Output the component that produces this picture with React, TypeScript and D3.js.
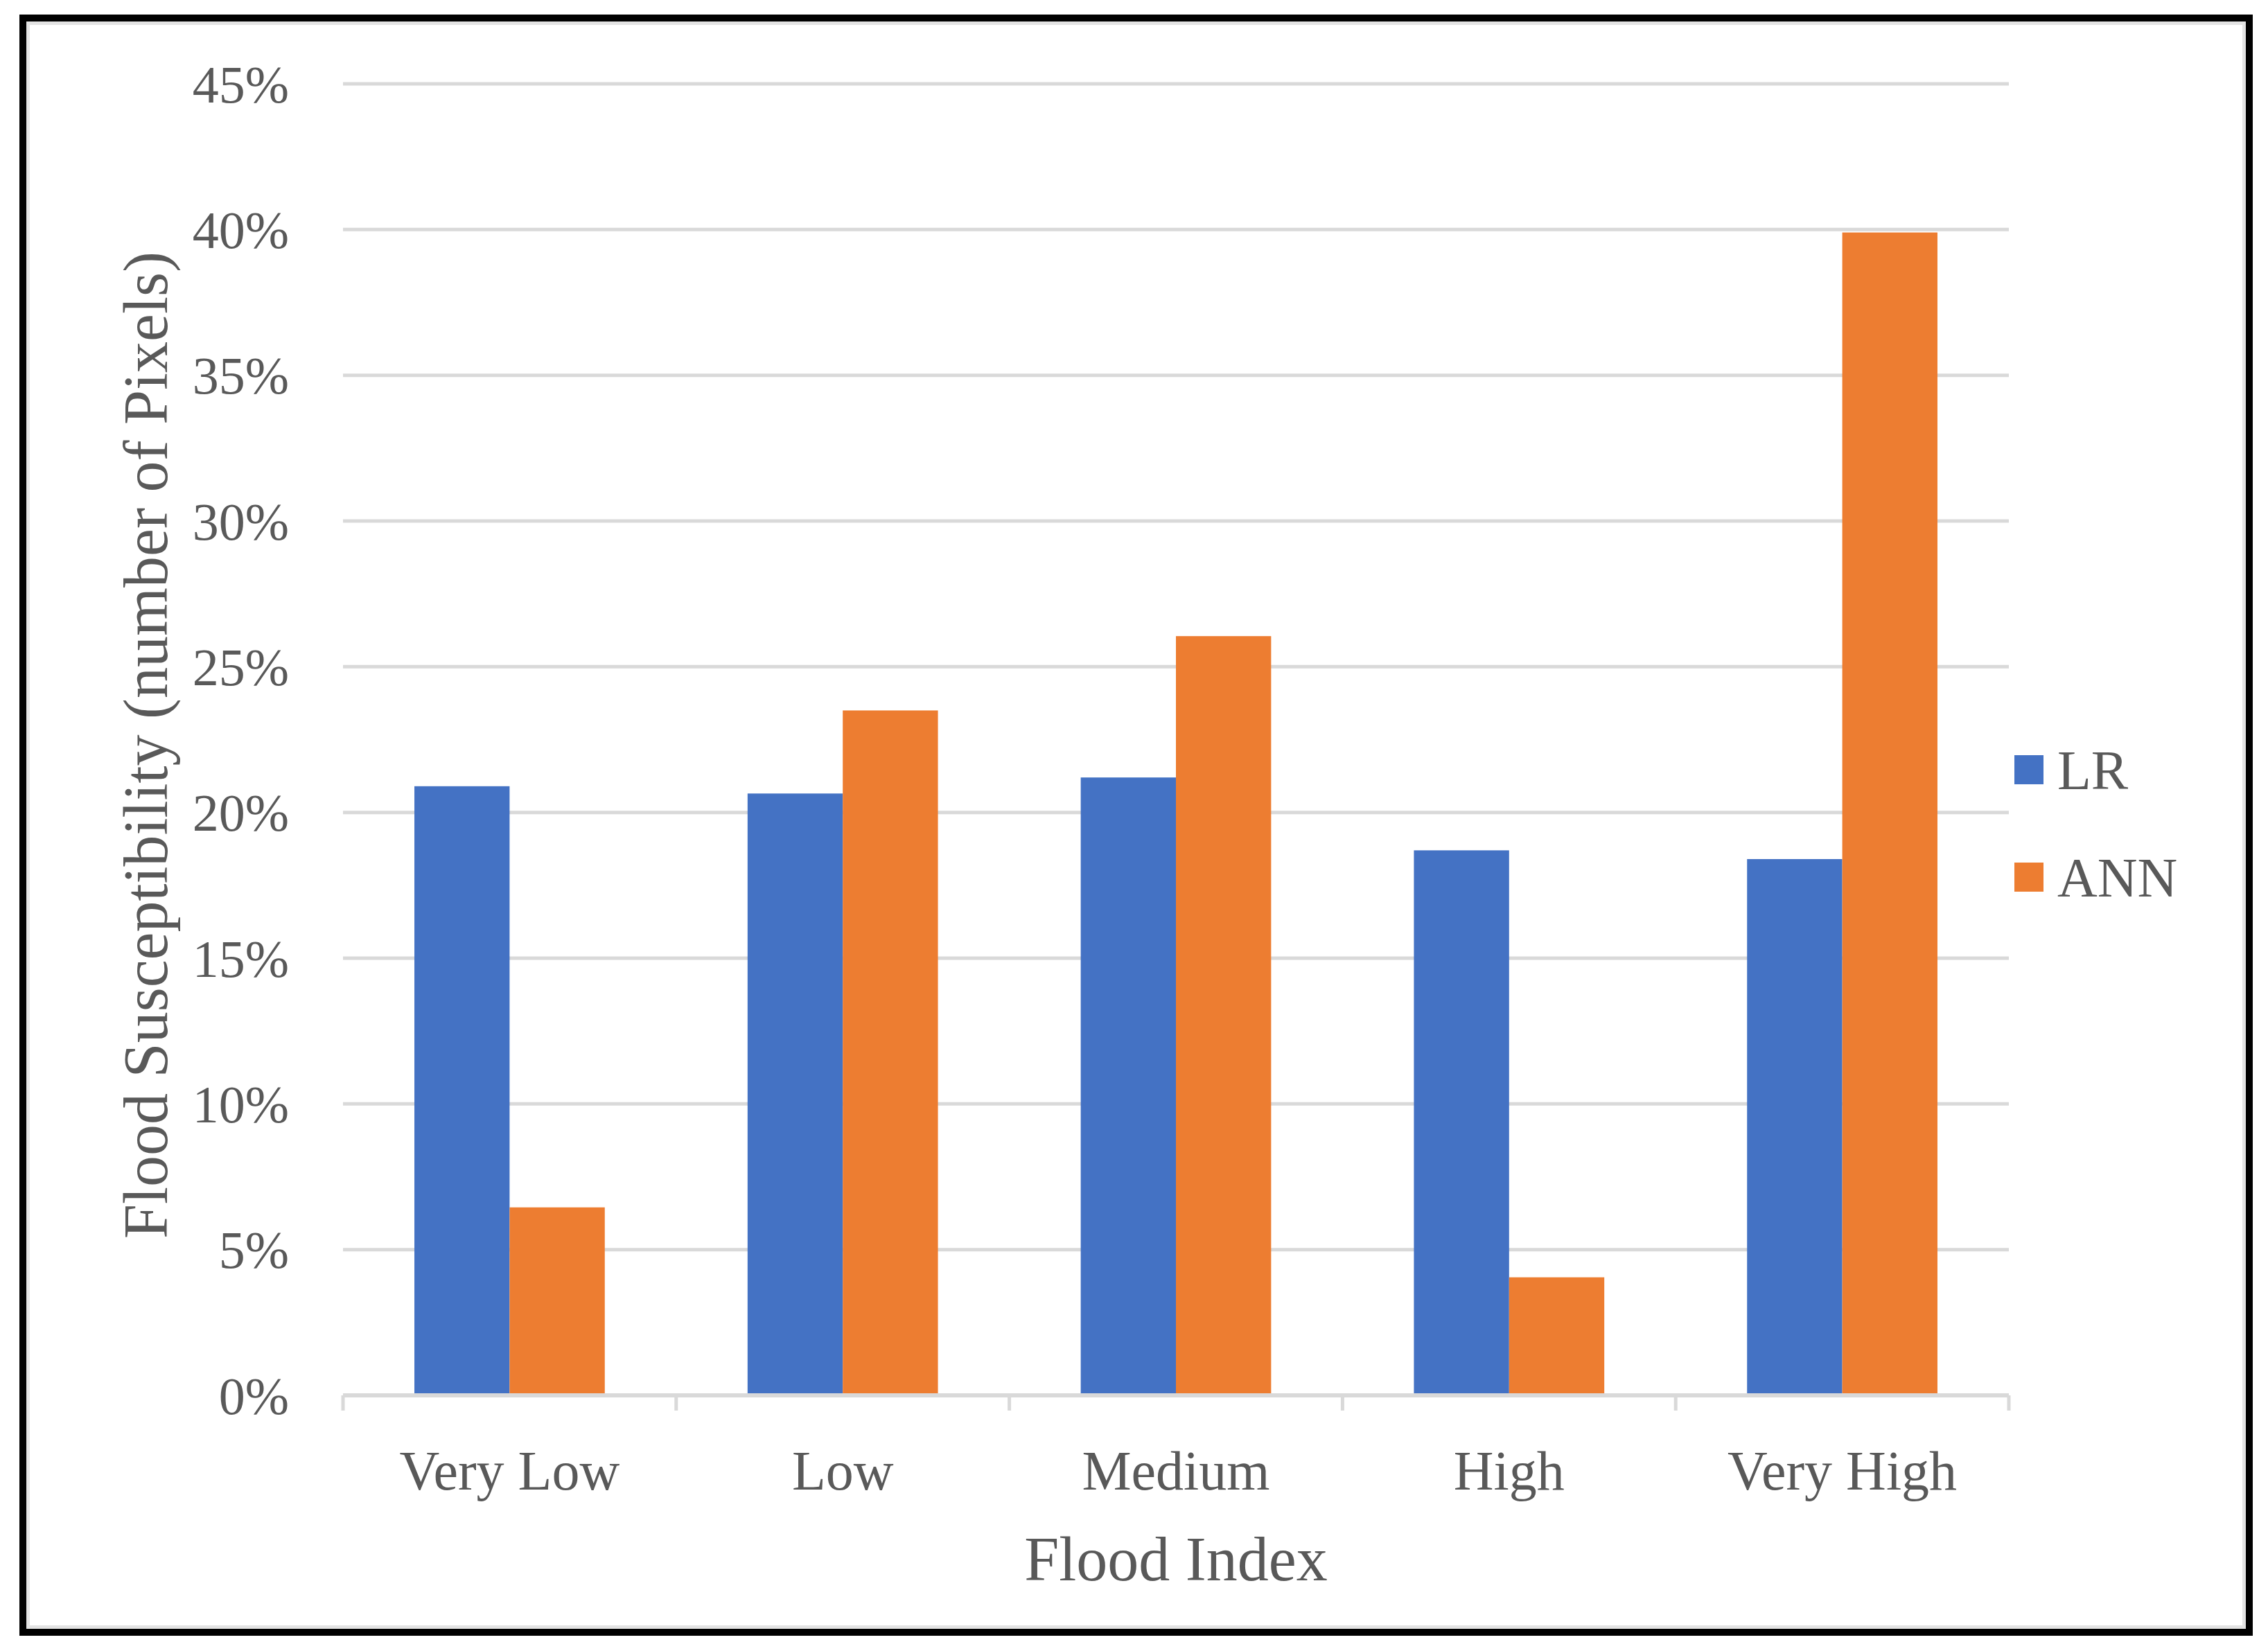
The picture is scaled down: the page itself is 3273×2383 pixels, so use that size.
import * as d3 from "d3";

const categories = ["Very Low", "Low", "Medium", "High", "Very High"];
const seriesNames = ["LR", "ANN"];
const lrValues = [20.9, 20.65, 21.2, 18.7, 18.4];
const annValues = [6.45, 23.5, 26.05, 4.05, 39.9];
const yTicks = [0, 5, 10, 15, 20, 25, 30, 35, 40, 45];
const colors = ["#4472C4", "#ED7D31"];

const W = 3273;
const H = 2383;
const plotLeft = 495;
const plotRight = 2899;
const plotTop = 121;
const plotBottom = 2014;
const font = "'Liberation Serif', 'DejaVu Serif', serif";
const textColor = "#595959";
const gridColor = "#D9D9D9";

export default function App() {
  // Excel-style clustered bars, gap width 150%
  const x0 = d3
    .scaleBand<string>()
    .domain(categories)
    .range([plotLeft, plotRight])
    .paddingInner(1.5 / 3.5)
    .paddingOuter(0.75 / 3.5);

  const x1 = d3
    .scaleBand<string>()
    .domain(seriesNames)
    .range([0, x0.bandwidth()])
    .padding(0);

  const y = d3.scaleLinear().domain([0, 45]).range([plotBottom, plotTop]);

  const step = (plotRight - plotLeft) / categories.length;
  const boundaries = d3.range(categories.length + 1).map((i) => plotLeft + i * step);

  const rows = categories.map((c, i) => ({
    category: c,
    bars: [
      { key: "LR", value: lrValues[i] },
      { key: "ANN", value: annValues[i] },
    ],
  }));

  return (
    <svg
      width={W}
      height={H}
      style={{ position: "absolute", left: 0, top: 0, background: "#fff" }}
      fontFamily={font}
    >
      <rect x={0} y={0} width={W} height={H} fill="#fff" />

      {/* frame */}
      <rect x={40} y={33} width={3199} height={2316} fill="none" stroke="#E3E3E3" strokeWidth={6} />
      <rect x={33} y={26} width={3213} height={2330} fill="none" stroke="#000" strokeWidth={10} />

      {/* gridlines */}
      {yTicks.slice(1).map((t) => (
        <line key={t} x1={plotLeft} x2={plotRight} y1={y(t)} y2={y(t)} stroke={gridColor} strokeWidth={5} />
      ))}

      {/* bars */}
      {rows.map((r) => (
        <g key={r.category} transform={`translate(${x0(r.category)},0)`}>
          {r.bars.map((b, j) => (
            <rect
              key={b.key}
              x={x1(b.key)}
              y={y(b.value)}
              width={x1.bandwidth()}
              height={plotBottom - y(b.value)}
              fill={colors[j]}
            />
          ))}
        </g>
      ))}

      {/* x axis */}
      <line x1={plotLeft} x2={plotRight} y1={plotBottom} y2={plotBottom} stroke={gridColor} strokeWidth={6} />
      {boundaries.map((bx, i) => (
        <line key={i} x1={bx} x2={bx} y1={plotBottom} y2={plotBottom + 22} stroke={gridColor} strokeWidth={5} />
      ))}

      {/* y tick labels */}
      {yTicks.map((t) => (
        <text key={t} x={417} y={y(t)} dy="0.35em" textAnchor="end" fontSize={76} fill={textColor}>
          {`${t}%`}
        </text>
      ))}

      {/* category labels */}
      {categories.map((c) => (
        <text
          key={c}
          x={(x0(c) ?? 0) + x0.bandwidth() / 2}
          y={2150}
          textAnchor="middle"
          fontSize={80}
          fill={textColor}
        >
          {c}
        </text>
      ))}

      {/* axis titles */}
      <text x={(plotLeft + plotRight) / 2} y={2281} textAnchor="middle" fontSize={90} fill={textColor}>
        Flood Index
      </text>
      <text
        transform={`translate(209,${(plotTop + plotBottom) / 2 + 8}) rotate(-90)`}
        dy="0.35em"
        textAnchor="middle"
        fontSize={90}
        fill={textColor}
      >
        Flood Susceptibility (number of Pixels)
      </text>

      {/* legend */}
      {seriesNames.map((s, i) => (
        <g key={s} transform={`translate(2907,${1111 + i * 155})`}>
          <rect x={0} y={-21} width={42} height={42} fill={colors[i]} />
          <text x={62} y={0} dy="0.35em" fontSize={80} fill={textColor}>
            {s}
          </text>
        </g>
      ))}
    </svg>
  );
}
